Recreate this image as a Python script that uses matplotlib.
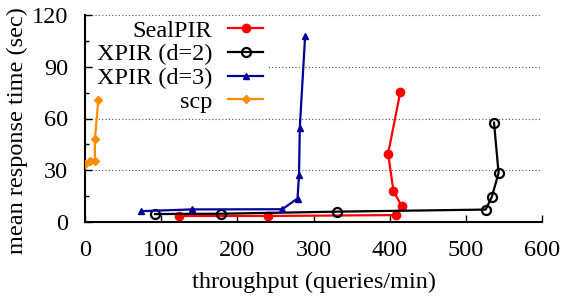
import matplotlib.pyplot as plt
from matplotlib.ticker import MultipleLocator

plt.rcParams['font.family'] = ['Liberation Serif', 'DejaVu Serif']
plt.rcParams['font.size'] = 17.5

# throughput (queries/min) vs mean response time (sec)
sealpir_x = [123, 240, 408, 416, 405, 398, 414]
sealpir_y = [3.5, 3.5, 4.0, 9.0, 18.0, 39.6, 75.5]

xpir2_x = [92, 179, 331, 526, 534, 543, 537]
xpir2_y = [4.6, 4.8, 6.0, 7.2, 14.4, 28.4, 57.6]

xpir3_x = [74, 141, 259, 279, 281, 282, 289]
xpir3_y = [6.3, 7.3, 7.4, 13.6, 27.3, 54.7, 107.8]

scp_x = [0, 6.6, 13, 13, 17.5]
scp_y = [33.6, 35.5, 35.2, 48.0, 71.0]

fig = plt.figure(figsize=(5.64, 2.99), dpi=100, facecolor="white")
ax = fig.add_axes([85/564, 77/299, 457/564, 207/299])

ax.plot(sealpir_x, sealpir_y, color="#ff0000", lw=1.6, marker="o", ms=6,
        label="SealPIR", zorder=3)
ax.plot(xpir2_x, xpir2_y, color="black", lw=1.6, marker="o", ms=6.5,
        mfc="none", mew=1.6, label="XPIR (d=2)", zorder=3)
ax.plot(xpir3_x, xpir3_y, color="#000099", lw=1.6, marker="^", ms=5,
        label="XPIR (d=3)", zorder=3)
ax.plot(scp_x, scp_y, color="#ff8c00", lw=1.6, marker="D", ms=4,
        label="scp", zorder=3)

ax.set_xlim(0, 600)
ax.set_ylim(0, 120)
ax.xaxis.set_major_locator(MultipleLocator(100))
ax.yaxis.set_major_locator(MultipleLocator(30))
ax.yaxis.set_minor_locator(MultipleLocator(15))
ax.tick_params(direction="in", length=5, width=1)
ax.tick_params(which="minor", direction="in", length=3, width=1)
ax.tick_params(axis="y", pad=12)
ax.tick_params(axis="x", pad=13)

for s in ("top", "right"):
    ax.spines[s].set_visible(False)
for s in ("left", "bottom"):
    ax.spines[s].set_linewidth(1.5)

ax.yaxis.grid(True, which="major", linestyle=(0, (1, 2)), color="#555555", lw=0.8)
ax.set_axisbelow(True)

ax.set_xlabel("throughput (queries/min)", labelpad=8)
ax.set_ylabel("mean response time (sec)")
ax.yaxis.set_label_coords(-0.125, 0.44)

leg = ax.legend(loc="upper right", bbox_to_anchor=(182/457, 0.995),
                markerfirst=False, frameon=True, fancybox=False,
                edgecolor="none", facecolor="white", framealpha=1,
                handlelength=1.45, handletextpad=0.65, labelspacing=0.07,
                borderpad=0.15, borderaxespad=0)
leg.set_zorder(2)

fig.savefig("out.png", dpi=100)
